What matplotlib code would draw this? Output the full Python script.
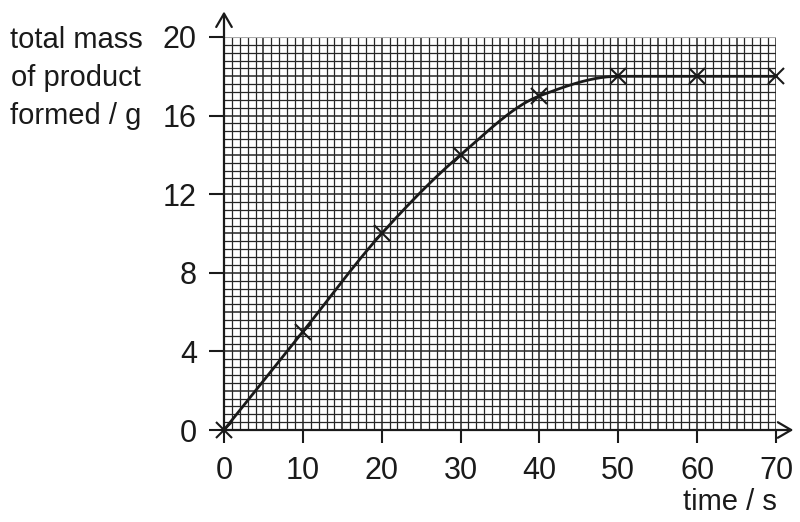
import numpy as np
import matplotlib
matplotlib.use("Agg")
import matplotlib.pyplot as plt

# data
time_s = [0, 10, 20, 30, 40, 50, 60, 70]
mass_g = [0, 5, 10, 14, 17, 18, 18, 18]
x_ticks = [0, 10, 20, 30, 40, 50, 60, 70]
y_ticks = [0, 4, 8, 12, 16, 20]
y_label = "total mass\nof product\nformed / g"
x_label = "time / s"

plt.rcParams['font.family'] = ['Liberation Sans', 'DejaVu Sans']
FS = 22
LFS = 21
GRID = '#262626'
INK = '#1a1a1a'


def pchip(x, y, xn):
    x = np.asarray(x, float); y = np.asarray(y, float)
    h = np.diff(x); d = np.diff(y) / h
    n = len(x); m = np.zeros(n)
    for k in range(1, n - 1):
        if d[k - 1] * d[k] > 0:
            w1 = 2 * h[k] + h[k - 1]; w2 = h[k] + 2 * h[k - 1]
            m[k] = (w1 + w2) / (w1 / d[k - 1] + w2 / d[k])
    def endm(h0, h1, d0, d1):
        v = ((2 * h0 + h1) * d0 - h0 * d1) / (h0 + h1)
        if np.sign(v) != np.sign(d0):
            v = 0.0
        elif np.sign(d0) != np.sign(d1) and abs(v) > abs(3 * d0):
            v = 3 * d0
        return v
    m[0] = endm(h[0], h[1], d[0], d[1])
    m[-1] = endm(h[-1], h[-2], d[-1], d[-2])
    idx = np.clip(np.searchsorted(x, xn) - 1, 0, n - 2)
    t = (xn - x[idx]) / h[idx]
    h00 = 2 * t**3 - 3 * t**2 + 1; h10 = t**3 - 2 * t**2 + t
    h01 = -2 * t**3 + 3 * t**2; h11 = t**3 - t**2
    return (h00 * y[idx] + h10 * h[idx] * m[idx] + h01 * y[idx + 1]
            + h11 * h[idx] * m[idx + 1])


fig = plt.figure(figsize=(8, 5.22), dpi=100)
ax = fig.add_axes([224 / 800, 1 - 430 / 522, 552 / 800, 393 / 522])
ax.set_xlim(0, 70)
ax.set_ylim(0, 20)

# fine graph-paper grid
for xv in np.arange(1, 71, 1):
    lw = 1.1 if xv % 5 == 0 else 0.9
    ax.axvline(xv, color=GRID, lw=lw, zorder=1)
for i, yv in enumerate(np.arange(0.4, 20.0, 0.4)):
    lw = 1.1 if (i + 1) % 5 == 0 else 0.9
    ax.axhline(yv, color=GRID, lw=lw, zorder=1)
ax.axhline(20, color='#aaaaaa', lw=0.8, zorder=1)

for s in ax.spines.values():
    s.set_visible(False)

ax.set_xticks(x_ticks)
ax.set_yticks(y_ticks)
ax.set_xticklabels([str(v) for v in x_ticks])
ax.set_yticklabels([str(v) for v in y_ticks])
ax.tick_params(axis='x', direction='out', length=9.5, width=1.5, pad=9,
               labelsize=FS, colors=INK)
ax.tick_params(axis='y', direction='out', length=10.5, width=1.5, pad=9,
               labelsize=FS, colors=INK)

# axes with arrows
arrow = dict(arrowstyle='->,head_length=0.6,head_width=0.35',
             mutation_scale=16, lw=1.6, color=INK,
             shrinkA=0, shrinkB=0)
ax.annotate('', xy=(72.2, 0), xytext=(0, 0), xycoords='data',
            arrowprops=arrow, annotation_clip=False, zorder=5)
ax.annotate('', xy=(0, 21.3), xytext=(0, 0), xycoords='data',
            arrowprops=arrow, annotation_clip=False, zorder=5)

# curve and points
xs = np.linspace(time_s[0], time_s[-1], 400)
ax.plot(xs, pchip(time_s, mass_g, xs), color=INK, lw=2.0, zorder=4,
        clip_on=False)
ax.plot(time_s, mass_g, linestyle='none', marker='x', markersize=12,
        markeredgewidth=1.5, color=INK, zorder=6, clip_on=False)

fig.text(76 / 800, 1 - 78 / 522, y_label, ha='center', va='center',
         multialignment='center', fontsize=LFS, linespacing=1.45,
         color=INK)
fig.text(777 / 800, 1 - 510 / 522, x_label, ha='right', va='baseline',
         fontsize=LFS, color=INK)

fig.savefig('out.png', dpi=100)
